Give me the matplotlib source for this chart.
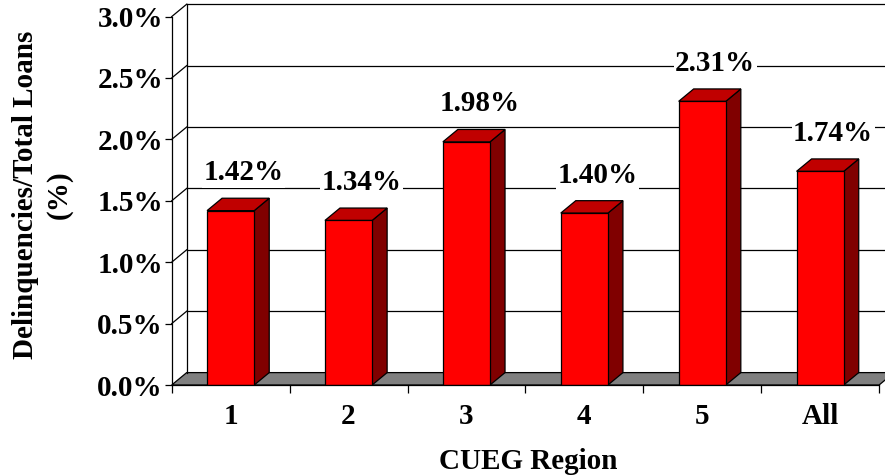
import numpy as np
import matplotlib
matplotlib.use("Agg")
import matplotlib.pyplot as plt
from matplotlib.patches import Polygon, Rectangle

# data
regions = ['1', '2', '3', '4', '5', 'All']
delinq = [1.42, 1.34, 1.98, 1.40, 2.31, 1.74]
yticks = [0.0, 0.5, 1.0, 1.5, 2.0, 2.5, 3.0]
ytick_labels = ['%.1f%%' % v for v in yticks]

plt.rcParams['font.family'] = 'Liberation Serif'
plt.rcParams['font.weight'] = 'bold'
fs = 21

W, H = 885, 475
fig = plt.figure(figsize=(W / 100, H / 100), dpi=100)

# front axis: x=-0.5 at 171.7px, 117.9 px per category; y=0 at 385px, 122.8 px per %
x0px, catpx = 171.7, 117.9
y0px, pctpx = 385.0, 122.8
ax = fig.add_axes([x0px / W, (H - y0px) / H, (W - x0px) / W, y0px / H])
ax.set_xlim(-0.5, -0.5 + (W - x0px) / catpx)
ax.set_ylim(0, y0px / pctpx)
for s in ax.spines.values():
    s.set_visible(False)

# depth offset of the 3d look, in data units
ddx = 15 / catpx
ddy = 12.4 / pctpx
n = len(regions)
xl, xr = -0.5, n - 0.5
ymax = yticks[-1]
lc = 'black'
lw = 0.9

# floor
ax.add_patch(Polygon([(xl, 0), (xr, 0), (xr + ddx, ddy), (xl + ddx, ddy)],
                     closed=True, facecolor='#808080', edgecolor=lc, lw=lw,
                     clip_on=False, zorder=1))

# back wall + gridlines
ax.plot([xl + ddx, xl + ddx], [ddy, ymax + ddy], color=lc, lw=lw, zorder=1)
for v in yticks[1:]:
    ax.plot([xl + ddx, xr + ddx], [v + ddy, v + ddy], color=lc, lw=lw, zorder=1)
    # side wall diagonals
    ax.plot([xl, xl + ddx], [v, v + ddy], color=lc, lw=lw, zorder=1, clip_on=False)
ax.plot([xl, xl], [0, ymax], color=lc, lw=lw, zorder=2, clip_on=False)

# bars
bw = 0.4
for i, v in enumerate(delinq):
    a, b = i - bw / 2, i + bw / 2
    ax.add_patch(Polygon([(b, 0), (b + ddx, ddy), (b + ddx, v + ddy), (b, v)],
                         closed=True, facecolor='#800000', edgecolor=lc, lw=lw, zorder=3))
    ax.add_patch(Polygon([(a, v), (b, v), (b + ddx, v + ddy), (a + ddx, v + ddy)],
                         closed=True, facecolor='#C00000', edgecolor=lc, lw=lw, zorder=3))
    ax.add_patch(Rectangle((a, 0), bw, v, facecolor='#FF0000', edgecolor=lc,
                           lw=lw, zorder=4))
    ax.text(i + 0.11, v + 0.31, '%.2f%%' % v, ha='center', va='center',
            fontsize=fs, fontweight='bold', zorder=5,
            bbox=dict(facecolor='white', edgecolor='none', pad=1))

# front axis line
ax.plot([xl, xr], [0, 0], color=lc, lw=lw, zorder=5, clip_on=False)

ax.set_yticks(yticks)
ax.set_yticklabels(ytick_labels)
ax.tick_params(axis='y', length=4.8, width=lw, pad=1.5, labelsize=fs)
ax.set_xticks(range(n))
ax.set_xticklabels(regions)
ax.set_xticks(np.arange(n + 1) - 0.5, minor=True)
ax.tick_params(axis='x', which='major', length=0, pad=13, labelsize=fs)
ax.tick_params(axis='x', which='minor', length=5.5, width=lw)

ax.set_xlabel('CUEG Region', fontsize=fs, fontweight='bold', labelpad=13)
fig.text(42 / W, 1 - 195 / H, 'Delinquencies/Total Loans\n(%)', rotation=90,
         ha='center', va='center', multialignment='center', linespacing=1.3,
         fontsize=fs, fontweight='bold')

fig.savefig('out.png', dpi=100)
